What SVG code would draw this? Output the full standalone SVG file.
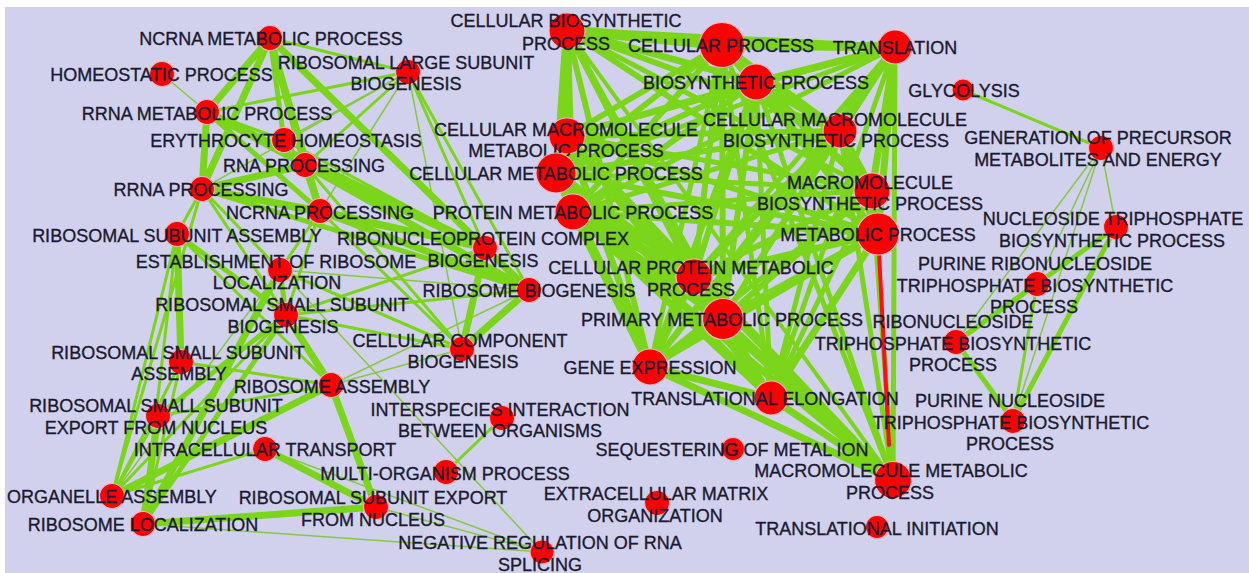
<svg xmlns="http://www.w3.org/2000/svg" width="1249" height="573" viewBox="0 0 1249 573">
<style>
.bg{fill:#d1d1ed}
.e{stroke:#7bd51a;fill:none;stroke-linecap:round}
.t1{stroke-width:1.5;stroke:#86c940}
.t2{stroke-width:3}
.t3{stroke-width:5}
.t4{stroke-width:7}
.red{stroke:#ff1010;stroke-width:4;stroke-linecap:round}
.n{fill:#ff0000;stroke:#f2b8c0;stroke-width:1.2}
text{font-family:"Liberation Sans",Arial,sans-serif;font-size:18px;fill:#1a1a30;stroke:#1a1a30;stroke-width:0.35;text-anchor:middle}
</style>
<rect width="1249" height="573" fill="#ffffff"/>
<rect class="bg" x="5" y="7" width="1244" height="566"/>
<g id="connectors">
<g class="e">
<line x1="567" y1="30" x2="722" y2="45" stroke-width="10"/>
<line x1="567" y1="30" x2="895" y2="47" stroke-width="6"/>
<line x1="567" y1="30" x2="756" y2="82" stroke-width="7"/>
<line x1="567" y1="30" x2="567" y2="136" stroke-width="9"/>
<line x1="567" y1="30" x2="840" y2="131" stroke-width="6"/>
<line x1="567" y1="30" x2="557" y2="173" stroke-width="8"/>
<line x1="567" y1="30" x2="872" y2="190" stroke-width="5"/>
<line x1="567" y1="30" x2="573" y2="212" stroke-width="7"/>
<line x1="567" y1="30" x2="878" y2="234" stroke-width="6"/>
<line x1="567" y1="30" x2="694" y2="277" stroke-width="6"/>
<line x1="567" y1="30" x2="723" y2="319" stroke-width="6"/>
<line x1="567" y1="30" x2="650" y2="367" stroke-width="6"/>
<line x1="567" y1="30" x2="771" y2="398" stroke-width="5"/>
<line x1="567" y1="30" x2="893" y2="480" stroke-width="4"/>
<line x1="722" y1="45" x2="895" y2="47" stroke-width="9"/>
<line x1="722" y1="45" x2="756" y2="82" stroke-width="8"/>
<line x1="722" y1="45" x2="567" y2="136" stroke-width="6"/>
<line x1="722" y1="45" x2="840" y2="131" stroke-width="7"/>
<line x1="722" y1="45" x2="557" y2="173" stroke-width="6"/>
<line x1="722" y1="45" x2="872" y2="190" stroke-width="6"/>
<line x1="722" y1="45" x2="573" y2="212" stroke-width="6"/>
<line x1="722" y1="45" x2="878" y2="234" stroke-width="7"/>
<line x1="722" y1="45" x2="694" y2="277" stroke-width="6"/>
<line x1="722" y1="45" x2="723" y2="319" stroke-width="6"/>
<line x1="722" y1="45" x2="650" y2="367" stroke-width="5"/>
<line x1="722" y1="45" x2="771" y2="398" stroke-width="5"/>
<line x1="722" y1="45" x2="893" y2="480" stroke-width="5"/>
<line x1="895" y1="47" x2="756" y2="82" stroke-width="7"/>
<line x1="895" y1="47" x2="567" y2="136" stroke-width="5"/>
<line x1="895" y1="47" x2="840" y2="131" stroke-width="7"/>
<line x1="895" y1="47" x2="557" y2="173" stroke-width="5"/>
<line x1="895" y1="47" x2="872" y2="190" stroke-width="7"/>
<line x1="895" y1="47" x2="573" y2="212" stroke-width="5"/>
<line x1="895" y1="47" x2="878" y2="234" stroke-width="7"/>
<line x1="895" y1="47" x2="694" y2="277" stroke-width="5"/>
<line x1="895" y1="47" x2="723" y2="319" stroke-width="5"/>
<line x1="895" y1="47" x2="650" y2="367" stroke-width="5"/>
<line x1="895" y1="47" x2="771" y2="398" stroke-width="5"/>
<line x1="895" y1="47" x2="893" y2="480" stroke-width="5"/>
<line x1="756" y1="82" x2="567" y2="136" stroke-width="6"/>
<line x1="756" y1="82" x2="840" y2="131" stroke-width="7"/>
<line x1="756" y1="82" x2="557" y2="173" stroke-width="6"/>
<line x1="756" y1="82" x2="872" y2="190" stroke-width="7"/>
<line x1="756" y1="82" x2="573" y2="212" stroke-width="6"/>
<line x1="756" y1="82" x2="878" y2="234" stroke-width="6"/>
<line x1="756" y1="82" x2="694" y2="277" stroke-width="6"/>
<line x1="756" y1="82" x2="723" y2="319" stroke-width="6"/>
<line x1="756" y1="82" x2="650" y2="367" stroke-width="6"/>
<line x1="756" y1="82" x2="771" y2="398" stroke-width="5"/>
<line x1="756" y1="82" x2="893" y2="480" stroke-width="5"/>
<line x1="567" y1="136" x2="840" y2="131" stroke-width="6"/>
<line x1="567" y1="136" x2="557" y2="173" stroke-width="8"/>
<line x1="567" y1="136" x2="872" y2="190" stroke-width="5"/>
<line x1="567" y1="136" x2="573" y2="212" stroke-width="8"/>
<line x1="567" y1="136" x2="878" y2="234" stroke-width="6"/>
<line x1="567" y1="136" x2="694" y2="277" stroke-width="7"/>
<line x1="567" y1="136" x2="723" y2="319" stroke-width="7"/>
<line x1="567" y1="136" x2="650" y2="367" stroke-width="7"/>
<line x1="567" y1="136" x2="771" y2="398" stroke-width="5"/>
<line x1="567" y1="136" x2="893" y2="480" stroke-width="6"/>
<line x1="840" y1="131" x2="557" y2="173" stroke-width="6"/>
<line x1="840" y1="131" x2="872" y2="190" stroke-width="8"/>
<line x1="840" y1="131" x2="573" y2="212" stroke-width="5"/>
<line x1="840" y1="131" x2="878" y2="234" stroke-width="7"/>
<line x1="840" y1="131" x2="694" y2="277" stroke-width="6"/>
<line x1="840" y1="131" x2="723" y2="319" stroke-width="6"/>
<line x1="840" y1="131" x2="650" y2="367" stroke-width="6"/>
<line x1="840" y1="131" x2="771" y2="398" stroke-width="5"/>
<line x1="840" y1="131" x2="893" y2="480" stroke-width="5"/>
<line x1="557" y1="173" x2="872" y2="190" stroke-width="5"/>
<line x1="557" y1="173" x2="573" y2="212" stroke-width="9"/>
<line x1="557" y1="173" x2="878" y2="234" stroke-width="6"/>
<line x1="557" y1="173" x2="694" y2="277" stroke-width="8"/>
<line x1="557" y1="173" x2="723" y2="319" stroke-width="8"/>
<line x1="557" y1="173" x2="650" y2="367" stroke-width="8"/>
<line x1="557" y1="173" x2="771" y2="398" stroke-width="6"/>
<line x1="557" y1="173" x2="893" y2="480" stroke-width="6"/>
<line x1="872" y1="190" x2="573" y2="212" stroke-width="5"/>
<line x1="872" y1="190" x2="878" y2="234" stroke-width="8"/>
<line x1="872" y1="190" x2="694" y2="277" stroke-width="6"/>
<line x1="872" y1="190" x2="723" y2="319" stroke-width="6"/>
<line x1="872" y1="190" x2="650" y2="367" stroke-width="5"/>
<line x1="872" y1="190" x2="771" y2="398" stroke-width="5"/>
<line x1="872" y1="190" x2="893" y2="480" stroke-width="5"/>
<line x1="573" y1="212" x2="878" y2="234" stroke-width="6"/>
<line x1="573" y1="212" x2="694" y2="277" stroke-width="9"/>
<line x1="573" y1="212" x2="723" y2="319" stroke-width="9"/>
<line x1="573" y1="212" x2="650" y2="367" stroke-width="8"/>
<line x1="573" y1="212" x2="771" y2="398" stroke-width="7"/>
<line x1="573" y1="212" x2="893" y2="480" stroke-width="7"/>
<line x1="878" y1="234" x2="694" y2="277" stroke-width="7"/>
<line x1="878" y1="234" x2="723" y2="319" stroke-width="8"/>
<line x1="878" y1="234" x2="650" y2="367" stroke-width="6"/>
<line x1="878" y1="234" x2="771" y2="398" stroke-width="7"/>
<line x1="694" y1="277" x2="723" y2="319" stroke-width="9"/>
<line x1="694" y1="277" x2="650" y2="367" stroke-width="7"/>
<line x1="694" y1="277" x2="771" y2="398" stroke-width="7"/>
<line x1="694" y1="277" x2="893" y2="480" stroke-width="6"/>
<line x1="723" y1="319" x2="650" y2="367" stroke-width="8"/>
<line x1="723" y1="319" x2="771" y2="398" stroke-width="8"/>
<line x1="723" y1="319" x2="893" y2="480" stroke-width="7"/>
<line x1="650" y1="367" x2="771" y2="398" stroke-width="7"/>
<line x1="650" y1="367" x2="893" y2="480" stroke-width="7"/>
<line x1="771" y1="398" x2="893" y2="480" stroke-width="7"/>
</g>
<line class="red" x1="878" y1="234" x2="889" y2="445"/>
<g class="e">
<line class="t2" x1="963" y1="90" x2="1101" y2="148"/>
<line class="t1" x1="1101" y1="148" x2="1116" y2="227"/>
<line class="t1" x1="1101" y1="148" x2="1037" y2="284"/>
<line class="t1" x1="1101" y1="148" x2="956" y2="342"/>
<line class="t1" x1="1101" y1="148" x2="1013" y2="420"/>
<line class="t3" x1="1116" y1="227" x2="956" y2="342"/>
<line class="t3" x1="1116" y1="227" x2="1013" y2="420"/>
<line class="t2" x1="1116" y1="227" x2="1037" y2="284"/>
<line class="t3" x1="1037" y1="284" x2="956" y2="342"/>
<line class="t2" x1="1037" y1="284" x2="1013" y2="420"/>
<line class="t3" x1="956" y1="342" x2="1013" y2="420"/>
</g>
<g class="e">
<line class="t1" x1="162" y1="74" x2="207" y2="112"/>
<line class="t1" x1="408" y1="72" x2="462" y2="349"/>
<line class="t1" x1="408" y1="72" x2="320" y2="211"/>
<line class="t1" x1="408" y1="72" x2="284" y2="140"/>
<line class="t1" x1="408" y1="72" x2="202" y2="189"/>
<line class="t1" x1="331" y1="385" x2="462" y2="349"/>
<line class="t1" x1="331" y1="385" x2="529" y2="290"/>
<line class="t1" x1="265" y1="449" x2="542" y2="552"/>
<line class="t1" x1="376" y1="507" x2="542" y2="552"/>
<line class="t1" x1="143" y1="524" x2="542" y2="552"/>
<line class="t1" x1="280" y1="270" x2="542" y2="552"/>
<line class="t1" x1="280" y1="270" x2="529" y2="290"/>
<line class="t1" x1="112" y1="496" x2="280" y2="270"/>
<line class="t2" x1="270" y1="38" x2="408" y2="72"/>
<line class="t2" x1="408" y1="72" x2="207" y2="112"/>
<line class="t2" x1="408" y1="72" x2="305" y2="165"/>
<line class="t2" x1="408" y1="72" x2="485" y2="248"/>
<line class="t2" x1="408" y1="72" x2="529" y2="290"/>
<line class="t2" x1="202" y1="189" x2="177" y2="234"/>
<line class="t2" x1="177" y1="234" x2="331" y2="385"/>
<line class="t2" x1="286" y1="315" x2="529" y2="290"/>
<line class="t2" x1="286" y1="315" x2="462" y2="349"/>
<line class="t2" x1="286" y1="315" x2="485" y2="248"/>
<line class="t2" x1="331" y1="385" x2="181" y2="362"/>
<line class="t2" x1="112" y1="496" x2="177" y2="234"/>
<line class="t2" x1="112" y1="496" x2="181" y2="362"/>
<line class="t2" x1="112" y1="496" x2="158" y2="416"/>
<line class="t2" x1="112" y1="496" x2="265" y2="449"/>
<line class="t2" x1="112" y1="496" x2="286" y2="315"/>
<line class="t2" x1="202" y1="189" x2="286" y2="315"/>
<line class="t2" x1="202" y1="189" x2="280" y2="270"/>
<line class="t2" x1="284" y1="140" x2="305" y2="165"/>
<line class="t2" x1="284" y1="140" x2="207" y2="112"/>
<line class="t2" x1="284" y1="140" x2="485" y2="248"/>
<line class="t2" x1="320" y1="211" x2="286" y2="315"/>
<line class="t2" x1="320" y1="211" x2="280" y2="270"/>
<line class="t2" x1="305" y1="165" x2="462" y2="349"/>
<line class="t2" x1="320" y1="211" x2="462" y2="349"/>
<line class="t2" x1="280" y1="270" x2="462" y2="349"/>
<line class="t2" x1="158" y1="416" x2="331" y2="385"/>
<line class="t2" x1="446" y1="472" x2="502" y2="418"/>
<line class="t2" x1="202" y1="189" x2="112" y2="496"/>
<line class="t2" x1="177" y1="234" x2="143" y2="524"/>
<line class="t2" x1="143" y1="524" x2="181" y2="362"/>
<line class="t3" x1="207" y1="112" x2="320" y2="211"/>
<line class="t3" x1="202" y1="189" x2="529" y2="290"/>
<line class="t3" x1="280" y1="270" x2="286" y2="315"/>
<line class="t3" x1="202" y1="189" x2="485" y2="248"/>
<line class="t3" x1="270" y1="38" x2="284" y2="140"/>
<line class="t3" x1="177" y1="234" x2="286" y2="315"/>
<line class="t3" x1="143" y1="524" x2="286" y2="315"/>
<line class="t3" x1="158" y1="416" x2="286" y2="315"/>
<line class="t4" x1="270" y1="38" x2="207" y2="112"/>
<line class="t4" x1="270" y1="38" x2="202" y2="189"/>
<line class="t4" x1="270" y1="38" x2="305" y2="165"/>
<line class="t4" x1="270" y1="38" x2="320" y2="211"/>
<line class="t4" x1="270" y1="38" x2="485" y2="248"/>
<line class="t4" x1="207" y1="112" x2="202" y2="189"/>
<line class="t4" x1="207" y1="112" x2="305" y2="165"/>
<line class="t4" x1="207" y1="112" x2="485" y2="248"/>
<line class="t4" x1="202" y1="189" x2="305" y2="165"/>
<line class="t4" x1="202" y1="189" x2="320" y2="211"/>
<line class="t4" x1="305" y1="165" x2="320" y2="211"/>
<line class="t4" x1="305" y1="165" x2="485" y2="248"/>
<line class="t4" x1="305" y1="165" x2="529" y2="290"/>
<line class="t4" x1="320" y1="211" x2="485" y2="248"/>
<line class="t4" x1="320" y1="211" x2="529" y2="290"/>
<line class="t4" x1="485" y1="248" x2="529" y2="290"/>
<line class="t4" x1="529" y1="290" x2="462" y2="349"/>
<line class="t4" x1="485" y1="248" x2="462" y2="349"/>
<line class="t4" x1="286" y1="315" x2="331" y2="385"/>
<line class="t4" x1="331" y1="385" x2="376" y2="507"/>
<line class="t4" x1="265" y1="449" x2="376" y2="507"/>
<line class="t4" x1="376" y1="507" x2="143" y2="524"/>
<line class="t4" x1="143" y1="524" x2="158" y2="416"/>
<line class="t4" x1="143" y1="524" x2="280" y2="270"/>
<line class="t4" x1="331" y1="385" x2="112" y2="496"/>
<line class="t4" x1="177" y1="234" x2="181" y2="362"/>
</g>
</g>
<g id="n-ncm"><circle class="n" cx="270" cy="38" r="12.5"/><text x="271" y="44.5">NCRNA METABOLIC PROCESS</text></g>
<g id="n-hom"><circle class="n" cx="162" cy="74" r="12.5"/><text x="161.5" y="80.5">HOMEOSTATIC PROCESS</text></g>
<g id="n-rlsb"><circle class="n" cx="408" cy="72" r="12.5"/><text x="406" y="68.5">RIBOSOMAL LARGE SUBUNIT<tspan x="406" y="89.5">BIOGENESIS</tspan></text></g>
<g id="n-rrm"><circle class="n" cx="207" cy="112" r="12.5"/><text x="207" y="119.5">RRNA METABOLIC PROCESS</text></g>
<g id="n-ery"><circle class="n" cx="284" cy="140" r="12.5"/><text x="286" y="146.5">ERYTHROCYTE HOMEOSTASIS</text></g>
<g id="n-rnap"><circle class="n" cx="305" cy="165" r="12.5"/><text x="304" y="171.5">RNA PROCESSING</text></g>
<g id="n-rrp"><circle class="n" cx="202" cy="189" r="12.5"/><text x="201" y="195.5">RRNA PROCESSING</text></g>
<g id="n-ncp"><circle class="n" cx="320" cy="211" r="12.5"/><text x="320" y="218.5">NCRNA PROCESSING</text></g>
<g id="n-rsa"><circle class="n" cx="177" cy="234" r="12.5"/><text x="177" y="241.5">RIBOSOMAL SUBUNIT ASSEMBLY</text></g>
<g id="n-rnp"><circle class="n" cx="485" cy="248" r="12.5"/><text x="483" y="244.5">RIBONUCLEOPROTEIN COMPLEX<tspan x="483" y="266.5">BIOGENESIS</tspan></text></g>
<g id="n-erl"><circle class="n" cx="280" cy="270" r="12.5"/><text x="276" y="267.5">ESTABLISHMENT OF RIBOSOME<tspan x="277" y="288.5">LOCALIZATION</tspan></text></g>
<g id="n-rb"><circle class="n" cx="529" cy="290" r="12.5"/><text x="529" y="296.5">RIBOSOME BIOGENESIS</text></g>
<g id="n-rssb"><circle class="n" cx="286" cy="315" r="12.5"/><text x="282" y="310.5">RIBOSOMAL SMALL SUBUNIT<tspan x="283" y="332.5">BIOGENESIS</tspan></text></g>
<g id="n-ccb"><circle class="n" cx="462" cy="349" r="12.5"/><text x="460" y="346.5">CELLULAR COMPONENT<tspan x="463" y="367.5">BIOGENESIS</tspan></text></g>
<g id="n-rssa"><circle class="n" cx="181" cy="362" r="12.5"/><text x="178" y="358.5">RIBOSOMAL SMALL SUBUNIT<tspan x="179" y="379.5">ASSEMBLY</tspan></text></g>
<g id="n-ra"><circle class="n" cx="331" cy="385" r="12.5"/><text x="332" y="392.5">RIBOSOME ASSEMBLY</text></g>
<g id="n-rsse"><circle class="n" cx="158" cy="416" r="12.5"/><text x="156" y="411.5">RIBOSOMAL SMALL SUBUNIT<tspan x="156" y="433.5">EXPORT FROM NUCLEUS</tspan></text></g>
<g id="n-is"><circle class="n" cx="502" cy="418" r="12.5"/><text x="500" y="415.5">INTERSPECIES INTERACTION<tspan x="500" y="436.5">BETWEEN ORGANISMS</tspan></text></g>
<g id="n-it"><circle class="n" cx="265" cy="449" r="12.5"/><text x="265" y="455.5">INTRACELLULAR TRANSPORT</text></g>
<g id="n-mop"><circle class="n" cx="446" cy="472" r="12.5"/><text x="445" y="479.5">MULTI-ORGANISM PROCESS</text></g>
<g id="n-oa"><circle class="n" cx="112" cy="496" r="12.5"/><text x="112" y="502.5">ORGANELLE ASSEMBLY</text></g>
<g id="n-rse"><circle class="n" cx="376" cy="507" r="12.5"/><text x="373" y="503.5">RIBOSOMAL SUBUNIT EXPORT<tspan x="373" y="525.5">FROM NUCLEUS</tspan></text></g>
<g id="n-rl"><circle class="n" cx="143" cy="524" r="12.5"/><text x="143" y="530.5">RIBOSOME LOCALIZATION</text></g>
<g id="n-nrs"><circle class="n" cx="542" cy="552" r="12"/><text x="540" y="548.5">NEGATIVE REGULATION OF RNA<tspan x="540" y="570.5">SPLICING</tspan></text></g>
<g id="n-cbp"><circle class="n" cx="567" cy="31" r="18"/><text x="566" y="26.5">CELLULAR BIOSYNTHETIC<tspan x="566" y="49.5">PROCESS</tspan></text></g>
<g id="n-cp"><circle class="n" cx="722" cy="45" r="22.5"/><text x="721" y="51.5">CELLULAR PROCESS</text></g>
<g id="n-tr"><circle class="n" cx="895" cy="47" r="17"/><text x="895" y="53.5">TRANSLATION</text></g>
<g id="n-bp"><circle class="n" cx="756" cy="82" r="18"/><text x="756" y="88.5">BIOSYNTHETIC PROCESS</text></g>
<g id="n-glyc"><circle class="n" cx="963" cy="90" r="11"/><text x="964" y="96.5">GLYCOLYSIS</text></g>
<g id="n-cmmp"><circle class="n" cx="567" cy="136" r="18"/><text x="566" y="135.5">CELLULAR MACROMOLECULE<tspan x="566" y="156.5">METABOLIC PROCESS</tspan></text></g>
<g id="n-cmbp"><circle class="n" cx="840" cy="131" r="17"/><text x="835" y="125.5">CELLULAR MACROMOLECULE<tspan x="836" y="146.5">BIOSYNTHETIC PROCESS</tspan></text></g>
<g id="n-gpme"><circle class="n" cx="1101" cy="148" r="12.5"/><text x="1098" y="143.5">GENERATION OF PRECURSOR<tspan x="1098" y="165.5">METABOLITES AND ENERGY</tspan></text></g>
<g id="n-cmp"><circle class="n" cx="556" cy="173" r="20"/><text x="556" y="179.5">CELLULAR METABOLIC PROCESS</text></g>
<g id="n-mbp"><circle class="n" cx="872" cy="191" r="18"/><text x="870" y="188.5">MACROMOLECULE<tspan x="870" y="209.5">BIOSYNTHETIC PROCESS</tspan></text></g>
<g id="n-pmp"><circle class="n" cx="573" cy="212" r="18"/><text x="573" y="218.5">PROTEIN METABOLIC PROCESS</text></g>
<g id="n-mp"><circle class="n" cx="878" cy="234" r="21"/><text x="878" y="240.5">METABOLIC PROCESS</text></g>
<g id="n-ntbp"><circle class="n" cx="1116" cy="227" r="12.5"/><text x="1113" y="224.5">NUCLEOSIDE TRIPHOSPHATE<tspan x="1112" y="246.5">BIOSYNTHETIC PROCESS</tspan></text></g>
<g id="n-cpmp"><circle class="n" cx="694" cy="277" r="18"/><text x="691" y="273.5">CELLULAR PROTEIN METABOLIC<tspan x="691" y="295.5">PROCESS</tspan></text></g>
<g id="n-prtbp"><circle class="n" cx="1037" cy="284" r="12.5"/><text x="1035" y="269.5">PURINE RIBONUCLEOSIDE<tspan x="1035" y="291.5">TRIPHOSPHATE BIOSYNTHETIC</tspan><tspan x="1034" y="313">PROCESS</tspan></text></g>
<g id="n-prim"><circle class="n" cx="723" cy="319" r="20.5"/><text x="722" y="325.5">PRIMARY METABOLIC PROCESS</text></g>
<g id="n-rtbp"><circle class="n" cx="956" cy="342" r="12.5"/><text x="953" y="327.5">RIBONUCLEOSIDE<tspan x="953" y="349.5">TRIPHOSPHATE BIOSYNTHETIC</tspan><tspan x="953" y="370.5">PROCESS</tspan></text></g>
<g id="n-ge"><circle class="n" cx="650" cy="367" r="18"/><text x="650" y="373.5">GENE EXPRESSION</text></g>
<g id="n-te"><circle class="n" cx="771" cy="398" r="17"/><text x="765" y="404.5">TRANSLATIONAL ELONGATION</text></g>
<g id="n-pntbp"><circle class="n" cx="1013" cy="421" r="12.5"/><text x="1010" y="406.5">PURINE NUCLEOSIDE<tspan x="1011" y="428.5">TRIPHOSPHATE BIOSYNTHETIC</tspan><tspan x="1010" y="449.5">PROCESS</tspan></text></g>
<g id="n-seq"><circle class="n" cx="733" cy="449" r="11.5"/><text x="732" y="455.5">SEQUESTERING OF METAL ION</text></g>
<g id="n-mmp"><circle class="n" cx="893" cy="480" r="18.5"/><text x="891" y="476.5">MACROMOLECULE METABOLIC<tspan x="890" y="498.5">PROCESS</tspan></text></g>
<g id="n-ecm"><circle class="n" cx="657" cy="503" r="12.5"/><text x="656" y="499.5">EXTRACELLULAR MATRIX<tspan x="655" y="521.5">ORGANIZATION</tspan></text></g>
<g id="n-ti"><circle class="n" cx="877" cy="527" r="11.5"/><text x="877" y="534.5">TRANSLATIONAL INITIATION</text></g>
</svg>
